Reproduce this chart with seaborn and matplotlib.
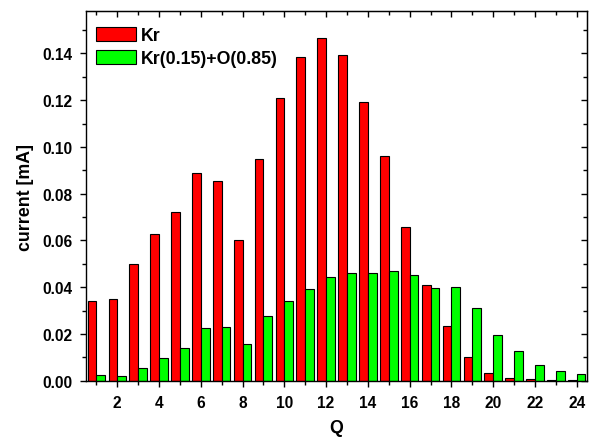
import matplotlib
matplotlib.use("Agg")
import matplotlib.pyplot as plt
import seaborn as sns
import pandas as pd
import numpy as np
from matplotlib.ticker import MultipleLocator

charge = list(range(1, 25))
kr = [0.0342, 0.0350, 0.0500, 0.0627, 0.0721, 0.0888, 0.0855, 0.0602, 0.0949, 0.1209,
      0.1384, 0.1466, 0.1391, 0.1193, 0.0959, 0.0659, 0.0408, 0.0234, 0.0100, 0.0034,
      0.0010, 0.0006, 0.0002, 0.0001]
kr_o = [0.0024, 0.0021, 0.0053, 0.0098, 0.0139, 0.0224, 0.0229, 0.0157, 0.0278, 0.0341,
        0.0392, 0.0443, 0.0460, 0.0460, 0.0468, 0.0454, 0.0397, 0.0400, 0.0310, 0.0197,
        0.0127, 0.0066, 0.0040, 0.0030]
series = ["Kr", "Kr(0.15)+O(0.85)"]
colors = ["#ff0000", "#00ff00"]

df = pd.DataFrame({
    "Q": charge * 2,
    "current": kr + kr_o,
    "series": [series[0]] * len(charge) + [series[1]] * len(charge),
})

sns.set_style("ticks")
plt.rcParams["font.family"] = ["Liberation Sans", "DejaVu Sans"]
plt.rcParams["font.weight"] = "bold"
plt.rcParams["text.color"] = "black"
plt.rcParams["axes.labelcolor"] = "black"
plt.rcParams["xtick.color"] = "black"
plt.rcParams["ytick.color"] = "black"
plt.rcParams["axes.edgecolor"] = "black"

fig = plt.figure(figsize=(6.03, 4.39), dpi=100)
ax = fig.add_axes([0.1426, 0.1305, 0.8304, 0.8415])

sns.barplot(data=df, x="Q", y="current", hue="series", palette=colors,
            native_scale=True, width=0.84, gap=0, edgecolor="black", linewidth=0.8,
            saturation=1, ax=ax, legend=True)

ax.set_xlim(0.5, 24.48)
ax.set_ylim(0, 0.158)
ax.xaxis.set_major_locator(MultipleLocator(2))
ax.xaxis.set_minor_locator(MultipleLocator(1))
ax.yaxis.set_major_locator(MultipleLocator(0.02))
ax.yaxis.set_minor_locator(MultipleLocator(0.01))
ax.yaxis.set_major_formatter(matplotlib.ticker.FormatStrFormatter("%.2f"))
ax.set_xticks(range(2, 25, 2))
ax.set_xticklabels([str(v) for v in range(2, 25, 2)])

for sp in ax.spines.values():
    sp.set_visible(True)
    sp.set_linewidth(1.0)
    sp.set_color("black")

ax.tick_params(which="both", direction="out", top=False, right=False, width=1.0,
               color="black", labelcolor="black")
ax.tick_params(which="major", length=4.5, labelsize=11.2)
ax.tick_params(which="minor", length=3)
ax.tick_params(axis="x", which="major", pad=6)
ax.tick_params(axis="y", which="major", pad=5)
for lab in ax.get_xticklabels() + ax.get_yticklabels():
    lab.set_fontweight("bold")

# mirrored inward ticks on top and right
sec_x = ax.secondary_xaxis("top")
sec_x.xaxis.set_major_locator(MultipleLocator(2))
sec_x.xaxis.set_minor_locator(MultipleLocator(1))
sec_x.tick_params(which="both", direction="in", labeltop=False, width=1.0, color="black")
sec_x.tick_params(which="major", length=4.5)
sec_x.tick_params(which="minor", length=3)
sec_y = ax.secondary_yaxis("right")
sec_y.yaxis.set_major_locator(MultipleLocator(0.02))
sec_y.yaxis.set_minor_locator(MultipleLocator(0.01))
sec_y.tick_params(which="both", direction="in", labelright=False, width=1.0, color="black")
sec_y.tick_params(which="major", length=4.5)
sec_y.tick_params(which="minor", length=3)

ax.set_xlabel("Q", fontsize=12.8, fontweight="bold", labelpad=6, color="black")
ax.set_ylabel("current [mA]", fontsize=12.8, fontweight="bold", labelpad=6, color="black")

handles, labels = ax.get_legend_handles_labels()
leg = ax.legend(handles, labels, loc="upper left", bbox_to_anchor=(0.0, 1 - 6 / 369.4),
                frameon=False, handlelength=2.25, handleheight=0.85, borderaxespad=0.15,
                borderpad=0.4, labelspacing=0.3, handletextpad=0.3,
                prop={"weight": "bold", "size": 12.8})
for t in leg.get_texts():
    t.set_color("black")

fig.savefig("out.png", dpi=100)
